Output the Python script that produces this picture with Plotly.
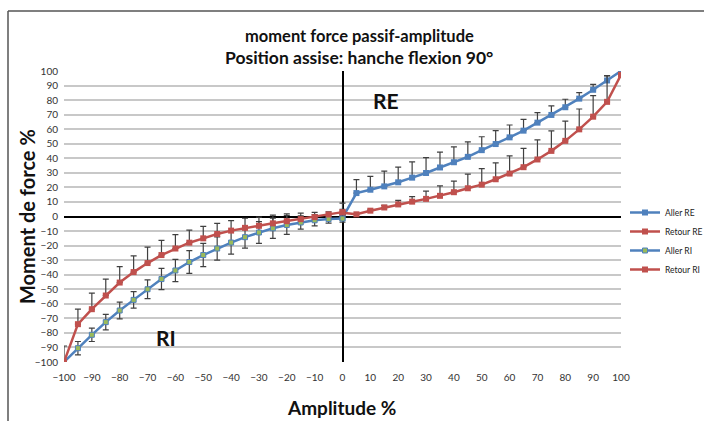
import plotly.graph_objects as go

# ---- data ----
x_re = [0, 5, 10, 15, 20, 25, 30, 35, 40, 45, 50, 55, 60, 65, 70, 75, 80, 85, 90, 95, 100]
aller_re = [-1, 16.1, 18.4, 20.7, 23.5, 26.7, 29.9, 33.7, 37.3, 41, 45.6, 49.8, 54.4, 59, 64.5, 69.8, 75.1, 81, 87.1, 93.5, 100]
aller_re_err = [6, 9.2, 9.2, 10.5, 10.5, 10.8, 10.5, 10.5, 10.5, 10.3, 9.2, 9.2, 8.5, 7.8, 6.9, 6.2, 5.5, 4.1, 3.7, 3.2, 0]
retour_re = [2.5, 1.5, 4, 6.2, 8.3, 10.2, 12.1, 14.2, 16.7, 19.4, 21.9, 25.6, 29.5, 33.9, 39.2, 45.1, 52, 59.9, 68.6, 78.8, 97.4]
retour_re_err = [0, 0.5, 1, 1.5, 2.8, 3.5, 5.3, 6.9, 7.6, 9.7, 11, 11.3, 12.2, 12.9, 13.4, 13.8, 13.6, 14, 14.5, 18, 0]

x_ri = [-100, -95, -90, -85, -80, -75, -70, -65, -60, -55, -50, -45, -40, -35, -30, -25, -20, -15, -10, -5, 0]
aller_ri = [-100, -90.5, -81.3, -72.6, -64.6, -57.3, -50, -43, -37.1, -31.3, -26.5, -22, -17.9, -14.2, -11, -8.1, -5.8, -4.1, -2.6, -1.8, -1.4]
aller_ri_err = [0, 4.6, 4.6, 5.3, 5.7, 5.7, 6.4, 7.3, 7.6, 7.8, 8, 8, 8, 7.6, 7.5, 7, 6.5, 4.6, 3.9, 2.8, 2.5]
retour_ri = [-100, -74, -63.7, -54.3, -45.4, -38.2, -32, -26.5, -22, -18, -15, -12, -9.7, -7.8, -6.4, -4.7, -3.2, -1.8, -0.4, 1.4, 3]
retour_ri_err = [11, 10.3, 11, 11.2, 11, 11.2, 11, 10.1, 9.6, 8.7, 8.2, 7.3, 6.8, 6.6, 6, 5.7, 5, 4.1, 3.2, 1.8, 6.2]

tick_vals = list(range(-100, 101, 10))

BLUE = "#4F81BD"
RED = "#C0504D"
GREEN = "#9BBB59"
ERR = "#404040"
FONT = "Lato"

def plus_err(arr):
    return dict(type="data", symmetric=False, array=arr, arrayminus=[0] * len(arr),
                color=ERR, thickness=1.2, width=3)

fig = go.Figure()
fig.add_trace(go.Scatter(x=x_re, y=aller_re, name="Aller RE", mode="lines+markers",
                         line=dict(color=BLUE, width=2.5),
                         marker=dict(symbol="square", size=6, color=BLUE),
                         error_y=plus_err(aller_re_err)))
fig.add_trace(go.Scatter(x=x_re, y=retour_re, name="Retour RE", mode="lines+markers",
                         line=dict(color=RED, width=2.5),
                         marker=dict(symbol="square", size=6, color=RED),
                         error_y=plus_err(retour_re_err)))
fig.add_trace(go.Scatter(x=x_ri, y=aller_ri, name="Aller RI", mode="lines+markers",
                         line=dict(color=BLUE, width=2.5),
                         marker=dict(symbol="square", size=5, color=GREEN,
                                     line=dict(color=BLUE, width=1)),
                         error_y=dict(type="data", array=aller_ri_err, symmetric=True,
                                      color=ERR, thickness=1.2, width=3)))
fig.add_trace(go.Scatter(x=x_ri, y=retour_ri, name="Retour RI", mode="lines+markers",
                         line=dict(color=RED, width=2.5),
                         marker=dict(symbol="square", size=6, color=RED),
                         error_y=plus_err(retour_ri_err)))

W, H = 704, 421
L, T = 64, 71
R = W - 621
B = H - 362
pw, ph = W - L - R, H - T - B

def px(xp):
    return (xp - L) / pw

def py(yp):
    return (H - B - yp) / ph

fig.update_layout(
    width=W, height=H,
    margin=dict(l=L, r=R, t=T, b=B, autoexpand=False),
    paper_bgcolor="white", plot_bgcolor="white",
    font=dict(family=FONT, color="#333333", size=10),
    showlegend=True,
    legend=dict(xref="container", yref="container",
                x=625 / W, y=1 - 198 / H, xanchor="left", yanchor="top",
                font=dict(family=FONT, size=8.5, color="#222222"),
                bgcolor="rgba(0,0,0,0)", itemwidth=30, tracegroupgap=0),
    xaxis=dict(range=[-100, 100], tickvals=tick_vals, showgrid=False,
               zeroline=True, zerolinecolor="black", zerolinewidth=2,
               showline=False, ticks="", ticklabelstandoff=8,
               tickfont=dict(family=FONT, size=10, color="#333333"), fixedrange=True),
    yaxis=dict(range=[-100, 100], tickvals=tick_vals, showgrid=True,
               gridcolor="#C8C8C8", gridwidth=1.5,
               zeroline=True, zerolinecolor="black", zerolinewidth=2,
               showline=False, ticks="", ticklabelstandoff=5,
               tickfont=dict(family=FONT, size=10, color="#333333"), fixedrange=True),
    annotations=[
        dict(text="<b>moment force passif-amplitude</b>",
             xref="paper", yref="paper", x=px(359), y=py(36), showarrow=False,
             xanchor="center", yanchor="middle", font=dict(family=FONT, size=16.5, color="#111111")),
        dict(text="<b>Position assise: hanche flexion 90°</b>",
             xref="paper", yref="paper", x=px(359), y=py(58), showarrow=False,
             xanchor="center", yanchor="middle", font=dict(family=FONT, size=17.5, color="#111111")),
        dict(text="<b>Moment de force %</b>", xref="paper", yref="paper",
             x=px(27), y=py(217), textangle=-90, showarrow=False,
             xanchor="center", yanchor="middle", font=dict(family=FONT, size=20, color="#111111")),
        dict(text="<b>Amplitude %</b>", xref="paper", yref="paper",
             x=px(341), y=py(408), showarrow=False,
             xanchor="center", yanchor="middle", font=dict(family=FONT, size=19, color="#111111")),
        dict(text="<b>RE</b>", xref="x", yref="y", x=15.5, y=80, showarrow=False,
             font=dict(family=FONT, size=21, color="#111111")),
        dict(text="<b>RI</b>", xref="x", yref="y", x=-63.5, y=-83.5, showarrow=False,
             font=dict(family=FONT, size=21, color="#111111")),
    ],
    shapes=[
        dict(type="line", xref="paper", yref="paper", x0=px(8), x1=px(720), y0=py(11), y1=py(11),
             line=dict(color="#555555", width=1.5)),
        dict(type="line", xref="paper", yref="paper", x0=px(8), x1=px(8), y0=py(11), y1=py(440),
             line=dict(color="#555555", width=1.5)),
    ],
)

fig.write_html(
    "out.html",
    config={"displayModeBar": False},
    post_script="document.body.style.margin='0';document.body.style.overflow='hidden';",
)
